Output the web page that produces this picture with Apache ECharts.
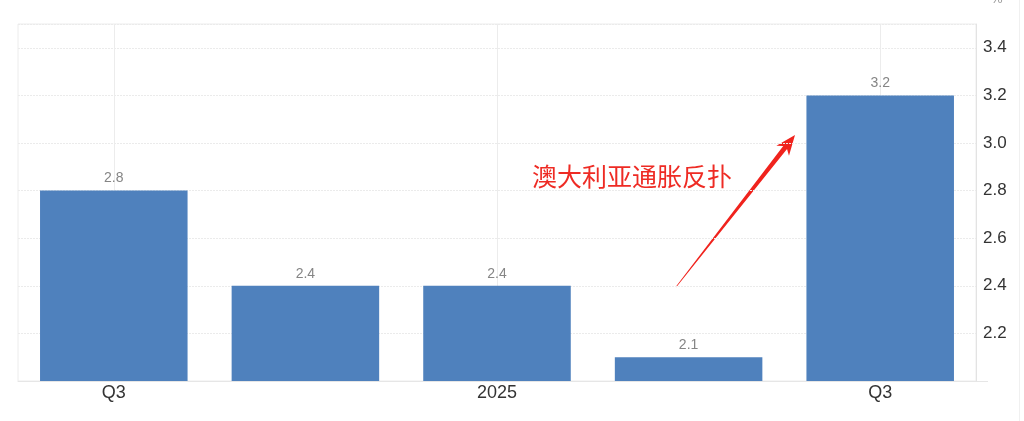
<!DOCTYPE html>
<html>
<head>
<meta charset="utf-8">
<script src="https://cdn.jsdelivr.net/npm/echarts@6/dist/echarts.min.js"></script>
<style>
html,body{margin:0;padding:0;background:#fff;}
#main{width:1024px;height:421px;}
</style>
</head>
<body>
<div id="main"></div>
<script>
// Data
const categories = ['2024 Q3', '2024 Q4', '2025 Q1', '2025 Q2', '2025 Q3'];
const tickLabels = ['Q3', '', '2025', '', 'Q3'];
const values = [2.8, 2.4, 2.4, 2.1, 3.2];
const gridLineIdx = [0, 2, 4];
const annotationText = '澳大利亚通胀反扑';
const unitLabel = '%';

const chart = echarts.init(document.getElementById('main'), null, {renderer: 'canvas'});

// arrow geometry (annotation only)
const tail = [676, 287], tip = [795, 135];
const dx = tip[0] - tail[0], dy = tip[1] - tail[1];
const len = Math.sqrt(dx * dx + dy * dy);
const u = [dx / len, dy / len], n = [-u[1], u[0]];
const headLen = 20, headHalf = 8, shaftHalf = 2.4, tailHalf = 0.3, notch = 4;
const base = [tip[0] - headLen * u[0], tip[1] - headLen * u[1]];
const inner = [base[0] + notch * u[0], base[1] + notch * u[1]];
const pt = (p, k, s) => [p[0] + n[0] * k * s, p[1] + n[1] * k * s];
const arrowPoints = [
  pt(tail, 1, tailHalf), pt(inner, 1, shaftHalf), pt(base, 1, headHalf), tip,
  pt(base, -1, headHalf), pt(inner, -1, shaftHalf), pt(tail, -1, tailHalf)
];

const FONT = 'Liberation Sans, Arial, sans-serif';

const option = {
  backgroundColor: '#ffffff',
  animation: false,
  grid: {
    left: 18, right: 48, top: 24, bottom: 40,
    show: true, borderColor: '#ececec', borderWidth: 1
  },
  xAxis: {
    type: 'category',
    data: categories,
    axisLine: {show: true, lineStyle: {color: '#e6e6e6', width: 1}},
    axisTick: {show: false},
    axisLabel: {
      color: '#333', fontSize: 18, fontFamily: FONT,
      margin: 3, interval: 0,
      formatter: (v, i) => tickLabels[i]
    },
    splitLine: {show: false}
  },
  yAxis: {
    type: 'value',
    position: 'right',
    min: 2.0, max: 3.5, interval: 0.2,
    axisLine: {show: true, lineStyle: {color: '#e3e3e3'}},
    axisTick: {show: false},
    axisLabel: {
      color: '#333', fontSize: 17, fontFamily: FONT, margin: 7,
      formatter: v => (v < 2.1 || v > 3.45) ? '' : v.toFixed(1)
    },
    splitLine: {show: true, lineStyle: {color: '#ebebeb', type: [2, 1], width: 1}}
  },
  series: [{
    type: 'bar',
    data: values,
    barCategoryGap: '23%',
    itemStyle: {color: '#4f81bd'},
    label: {
      show: true, position: 'top', distance: 5,
      color: '#858585', fontSize: 14, fontFamily: FONT,
      formatter: p => p.value.toFixed(1)
    },
    markLine: {
      silent: true, symbol: 'none', label: {show: false},
      lineStyle: {color: '#ececec', type: 'solid', width: 1},
      data: gridLineIdx.map(i => ({xAxis: i})),
      z: 0
    },
    z: 2
  }],
  graphic: [
    {type: 'line', shape: {x1: 1019.5, y1: 0, x2: 1019.5, y2: 421}, style: {stroke: '#f0f0f0', lineWidth: 1}, silent: true},
    {type: 'line', shape: {x1: 976, y1: 381.5, x2: 988, y2: 381.5}, style: {stroke: '#e6e6e6', lineWidth: 1}, silent: true},
    {type: 'text', left: 991, top: -7, style: {text: unitLabel, fontSize: 13, fill: '#999', fontFamily: FONT}, silent: true},
    {type: 'text', left: 532, top: 164, style: {text: annotationText, fontSize: 25, fill: '#ee2b24', fontFamily: 'Noto Sans CJK SC, sans-serif'}, silent: true},
    {type: 'polygon', shape: {points: arrowPoints}, style: {fill: '#f0231d'}, silent: true}
  ]
};
chart.setOption(option);
</script>
</body>
</html>
